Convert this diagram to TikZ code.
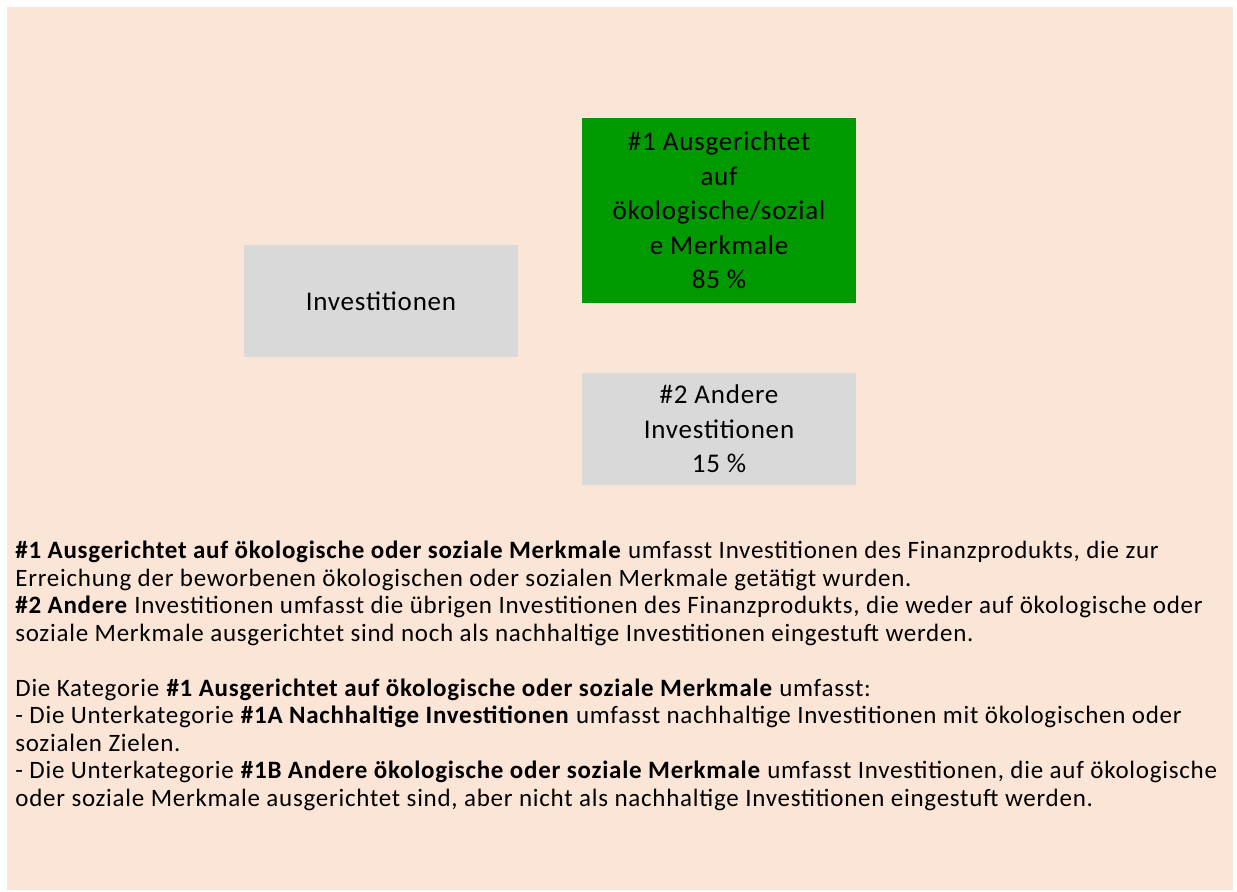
\documentclass[tikz,border=0pt]{standalone}
\usepackage{fontspec}
\setmainfont{Carlito}[LetterSpace=3]
\usetikzlibrary{positioning}
\definecolor{peachBg}{RGB}{251,229,214}
\definecolor{alignGreen}{RGB}{0,153,0}
\definecolor{paleGrey}{RGB}{217,217,217}
\tikzset{
    investbox/.style={
        rectangle,
        fill=paleGrey,
        align=center,
        minimum width=137pt,
        minimum height=56pt,
        inner sep=2pt,
        font=\fontsize{13.5}{17.25}\selectfont
    },
    greenbox/.style={
        investbox,
        fill=alignGreen,
        minimum height=92.5pt
    },
    legendtext/.style={
        align=left,
        anchor=north west,
        inner sep=0pt,
        font=\fontsize{12.5}{13.75}\selectfont
    }
}

\begin{document}
\begin{tikzpicture}[x=0.5pt, y=-0.5pt, node distance=34.5pt]
    \fill[white] (0,0) rectangle (1237,892);
    \fill[peachBg] (7,7) rectangle (1233,890);
    \node[greenbox] (aligned) at (719,210.5) {\#1 Ausgerichtet\\auf\\ökologische/sozial\\e Merkmale\\85 \%};
    \node[investbox] (invest) at (381,301) {Investitionen};
    \node[investbox, below=of aligned] (other) {\#2 Andere\\Investitionen\\15 \%};
    \node[legendtext] (desc) at (15,541) {%
        \textbf{\#1 Ausgerichtet auf ökologische oder soziale Merkmale} umfasst Investitionen des Finanzprodukts, die zur\\
        Erreichung der beworbenen ökologischen oder sozialen Merkmale getätigt wurden.\\
        \textbf{\#2 Andere} Investitionen umfasst die übrigen Investitionen des Finanzprodukts, die weder auf ökologische oder\\
        soziale Merkmale ausgerichtet sind noch als nachhaltige Investitionen eingestuft werden.\\[13.75pt]
        Die Kategorie \textbf{\#1 Ausgerichtet auf ökologische oder soziale Merkmale} umfasst:\\
        - Die Unterkategorie \textbf{\#1A Nachhaltige Investitionen} umfasst nachhaltige Investitionen mit ökologischen oder\\
        sozialen Zielen.\\
        - Die Unterkategorie \textbf{\#1B Andere ökologische oder soziale Merkmale} umfasst Investitionen, die auf ökologische\\
        oder soziale Merkmale ausgerichtet sind, aber nicht als nachhaltige Investitionen eingestuft werden.};
\end{tikzpicture}
\end{document}
